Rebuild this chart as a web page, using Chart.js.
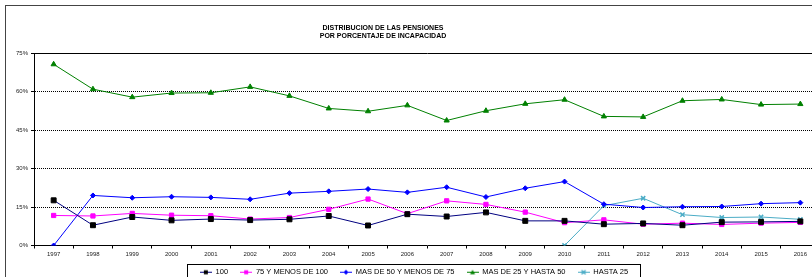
<!DOCTYPE html>
<html>
<head>
<meta charset="utf-8">
<script src="https://cdn.jsdelivr.net/npm/chart.js@4.4.1/dist/chart.umd.min.js"></script>
<style>
  body { margin: 0; width: 812px; height: 277px; overflow: hidden; background: #fff; font-family: "Liberation Sans", Arial, sans-serif; }
  #frame { position: absolute; left: 5px; top: 5px; width: 900px; height: 400px; border-left: 1px solid #444; border-top: 1px solid #444; }
  #title { position: absolute; left: 283px; width: 200px; top: 24px; text-align: center; font-size: 7px; font-weight: bold; line-height: 8px; color: #000; }
  #wrap { position: absolute; left: 0; top: 0; width: 840px; height: 300px; }
</style>
</head>
<body>
<div id="frame"></div>
<div id="wrap"><canvas id="chart" width="840" height="300"></canvas></div>
<div id="title">DISTRIBUCION DE LAS PENSIONES<br>POR PORCENTAJE DE INCAPACIDAD</div>
<script>
// years on the x axis
const years = ['1997','1998','1999','2000','2001','2002','2003','2004','2005','2006',
               '2007','2008','2009','2010','2011','2012','2013','2014','2015','2016'];

// share of pensions (%) per incapacity bracket
const s100   = [17.6, 7.9, 11.1, 9.8, 10.3, 9.9, 10.2, 11.5, 7.8, 12.2, 11.3, 12.9, 9.6, 9.6, 8.3, 8.6, 7.9, 9.1, 9.2, 9.4];
const s75    = [11.7, 11.5, 12.5, 11.8, 11.6, 10.3, 10.9, 14.1, 18.1, 12.4, 17.4, 16.0, 13.0, 8.9, 10.0, 8.3, 8.7, 8.2, 8.7, 9.0];
const s50    = [0, 19.5, 18.6, 19.0, 18.75, 18.0, 20.4, 21.1, 22.0, 20.7, 22.7, 18.9, 22.3, 24.9, 16.1, 14.8, 15.1, 15.2, 16.3, 16.7];
const s25    = [70.6, 60.9, 57.8, 59.4, 59.5, 61.8, 58.3, 53.4, 52.3, 54.6, 48.7, 52.5, 55.2, 56.8, 50.3, 50.1, 56.4, 56.9, 54.9, 55.1];
const sHasta = [null, null, null, null, null, null, null, null, null, null, null, null, null, 0, 15.5, 18.4, 12.0, 10.9, 11.1, 10.2];

const yTicks = [0, 15, 30, 45, 60, 75];

// little "line + marker" pictures for the legend, like the excel ones
function legendIcon(lineColor, markColor, style) {
  const c = document.createElement('canvas');
  c.width = 12; c.height = 7;
  const g = c.getContext('2d');
  g.strokeStyle = lineColor; g.lineWidth = 1;
  g.beginPath(); g.moveTo(0, 3.5); g.lineTo(12, 3.5); g.stroke();
  g.fillStyle = markColor; g.strokeStyle = markColor;
  g.beginPath();
  if (style === 'rect') g.rect(4, 1.5, 4, 4);
  else if (style === 'diamond') { g.moveTo(6, 1); g.lineTo(8.5, 3.5); g.lineTo(6, 6); g.lineTo(3.5, 3.5); g.closePath(); }
  else if (style === 'tri') { g.moveTo(6, 1); g.lineTo(8.5, 5.5); g.lineTo(3.5, 5.5); g.closePath(); }
  else { g.moveTo(4, 1.5); g.lineTo(8, 5.5); g.moveTo(8, 1.5); g.lineTo(4, 5.5); g.lineWidth = 1.5; g.stroke(); return c; }
  g.fill();
  return c;
}

const icons = [
  legendIcon('#000080', '#000', 'rect'),
  legendIcon('#ff00ff', '#ff00ff', 'rect'),
  legendIcon('#0000ff', '#0000ff', 'diamond'),
  legendIcon('#008000', '#008000', 'tri'),
  legendIcon('#4bacc6', '#4bacc6', 'x')
];

// box round the legend
const legendBox = {
  id: 'legendBox',
  afterDraw(chart) {
    const hb = chart.legend.legendHitBoxes;
    if (!hb || !hb.length) return;
    const left = Math.min(...hb.map(h => h.left)) - 13;
    const right = Math.max(...hb.map(h => h.left + h.width)) + 12;
    const top = hb[0].top - 5;
    const ctx = chart.ctx;
    ctx.save();
    ctx.strokeStyle = '#000';
    ctx.lineWidth = 1;
    ctx.strokeRect(Math.round(left) + 0.5, Math.round(top) + 0.5, Math.round(right - left), 60);
    ctx.restore();
  }
};

window.onload = function() {
  const ctx = document.getElementById('chart').getContext('2d');

  const data = {
    labels: years,
    datasets: [
      { label: '100', data: s100, borderColor: '#000080', backgroundColor: '#000',
        pointStyle: 'rect', pointRadius: 3.5, pointBackgroundColor: '#000', pointBorderColor: '#000' },
      { label: '75 Y MENOS DE 100', data: s75, borderColor: '#ff00ff', backgroundColor: '#ff00ff',
        pointStyle: 'rect', pointRadius: 3, pointBackgroundColor: '#ff00ff', pointBorderColor: '#ff00ff' },
      { label: 'MAS DE 50 Y MENOS DE 75', data: s50, borderColor: '#0000ff', backgroundColor: '#0000ff',
        pointStyle: 'rectRot', pointRadius: 2.5, pointBackgroundColor: '#0000ff', pointBorderColor: '#0000ff' },
      { label: 'MAS DE 25 Y HASTA 50', data: s25, borderColor: '#008000', backgroundColor: '#008000',
        pointStyle: 'triangle', pointRadius: 3, pointBackgroundColor: '#008000', pointBorderColor: '#008000' },
      { label: 'HASTA 25', data: sHasta, borderColor: '#4bacc6', backgroundColor: '#4bacc6',
        pointStyle: 'crossRot', pointRadius: 3, pointBorderWidth: 1.5, pointBorderColor: '#4bacc6' }
    ]
  };

  const config = {
    type: 'line',
    data: data,
    options: {
      responsive: false,
      animation: false,
      devicePixelRatio: 1,
      elements: { line: { borderWidth: 1, tension: 0 } },
      layout: { padding: { left: 8, right: 20, top: 53, bottom: 14 } },
      plugins: {
        title: { display: false },
        tooltip: { enabled: false },
        legend: {
          position: 'bottom',
          labels: {
            usePointStyle: true,
            pointStyleWidth: 12,
            padding: 12,
            color: '#000',
            font: { family: '"Liberation Sans", Arial, sans-serif', size: 7.5 },
            generateLabels(chart) {
              const items = Chart.defaults.plugins.legend.labels.generateLabels(chart);
              items.forEach((it, i) => { it.pointStyle = icons[i]; });
              return items;
            }
          }
        }
      },
      scales: {
        x: {
          offset: true,
          afterFit(scale) { scale.height = 11; },
          grid: { display: true, offset: true, drawOnChartArea: false, drawTicks: true, tickLength: 3, color: '#000' },
          border: { display: true, color: '#000', width: 1 },
          ticks: { maxRotation: 0, autoSkip: false, padding: 2, color: '#222',
                   font: { family: '"Liberation Sans", Arial, sans-serif', size: 6 } }
        },
        y: {
          min: 0,
          max: 75,
          afterFit(scale) { scale.width = 26; },
          afterBuildTicks(scale) { scale.ticks = yTicks.map(v => ({ value: v })); },
          grid: {
            color: c => c.tick && c.tick.value === 0 ? 'rgba(0,0,0,0)' : '#000',
            tickLength: 3, tickColor: '#000'
          },
          border: { display: true, color: '#000', width: 1,
                    dash: c => c.tick && c.tick.value === 75 ? [] : [1, 1] },
          ticks: { padding: 3, color: '#222', callback: v => v + '%',
                   font: { family: '"Liberation Sans", Arial, sans-serif', size: 6 } }
        }
      }
    },
    plugins: [legendBox]
  };

  new Chart(ctx, config);
};
</script>
</body>
</html>
